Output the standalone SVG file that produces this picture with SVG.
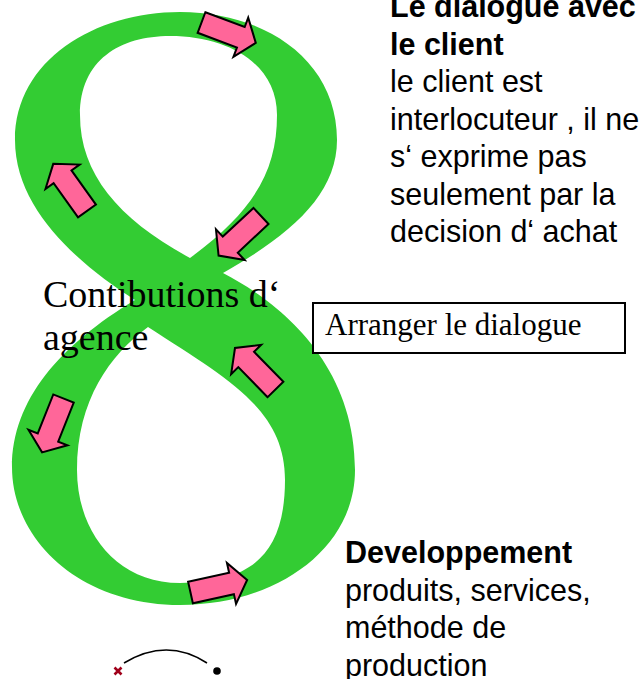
<svg xmlns="http://www.w3.org/2000/svg" width="642" height="679" viewBox="0 0 642 679">
  <style>
    .sans { font-family: "Liberation Sans", Arial, sans-serif; font-size: 30.5px; fill: #000; }
    .bold { font-weight: bold; }
    .serif { font-family: "Liberation Serif", "Times New Roman", serif; fill: #000; }
    .loop { fill: #33CC33; fill-rule: evenodd; }
    .flow { fill: #FF6699; stroke: #000; stroke-width: 2; stroke-linejoin: miter; }
    .box { fill: #fff; stroke: #000; stroke-width: 2; }
  </style>
  <defs>
    <!-- block arrow pointing along +x, tail at origin -->
    <path id="blockArrow" d="M0,-11 L42,-11 L42,-21 L58,0 L42,21 L42,11 L0,11 Z"/>
  </defs>

  <rect width="642" height="679" fill="#fff"/>

  <!-- green figure-eight -->
  <g id="figure-eight">
    <path class="loop" d="
      M180,12
      C265,12 337,60 337,140
      C337,195 290,235 223,273
      C275,300 355,360 355,470
      C355,550 275,605 180,605
      C80,605 12,540 12,467
      C12,400 60,345 135,300
      C80,265 15,210 15,140
      C15,60 95,12 180,12 Z
      M170,36
      C230,36 277,65 277,115
      C277,170 255,210 190,258
      C120,220 80,175 80,115
      C80,60 120,36 170,36 Z
      M148,327
      C230,380 285,410 285,480
      C285,555 250,583 180,583
      C115,583 77,530 77,470
      C77,400 110,355 148,327 Z"/>
  </g>

  <!-- circulation arrows along the loop -->
  <g id="connectors">
    <use href="#blockArrow" class="flow" transform="translate(201.5,22.5) rotate(20.6)"/>
    <use href="#blockArrow" class="flow" transform="translate(87,211) rotate(-125.6)"/>
    <use href="#blockArrow" class="flow" transform="translate(261,216) rotate(137)"/>
    <use href="#blockArrow" class="flow" transform="translate(275.5,389.5) rotate(-134.3)"/>
    <use href="#blockArrow" class="flow" transform="translate(63.5,398.5) rotate(111.7)"/>
    <use href="#blockArrow" class="flow" transform="translate(190.5,592.5) rotate(-12.5)"/>
  </g>

  <g id="contributions">
    <text class="serif" font-size="38" x="43" y="307">Contibutions d‘</text>
    <text class="serif" font-size="38" x="43" y="350">agence</text>
  </g>

  <g id="arranger">
    <rect class="box" x="313" y="303" width="312" height="50"/>
    <text class="serif" font-size="31" x="325" y="335">Arranger le dialogue</text>
  </g>

  <g id="dialogue-client">
    <text class="sans bold" x="390" y="17">Le dialogue avec</text>
    <text class="sans bold" x="390" y="54.5">le client</text>
    <text class="sans" x="390" y="92">le client est</text>
    <text class="sans" x="390" y="129.5">interlocuteur , il ne</text>
    <text class="sans" x="390" y="167">s‘ exprime pas</text>
    <text class="sans" x="390" y="204.5">seulement par la</text>
    <text class="sans" x="390" y="242">decision d‘ achat</text>
  </g>

  <g id="developpement">
    <text class="sans bold" x="345" y="563">Developpement</text>
    <text class="sans" x="345" y="600.5">produits, services,</text>
    <text class="sans" x="345" y="638">méthode de</text>
    <text class="sans" x="345" y="675.5">production</text>
  </g>

  <!-- small arc with end marks -->
  <g id="arc-mark">
    <path d="M124,663 Q167,637 207,663" fill="none" stroke="#000" stroke-width="1.5"/>
    <path d="M114.5,667.5 L121.5,674.5 M121.5,667.5 L114.5,674.5" stroke="#A0001A" stroke-width="2.6"/>
    <circle cx="217" cy="671" r="3.8" fill="#000"/>
  </g>
</svg>
